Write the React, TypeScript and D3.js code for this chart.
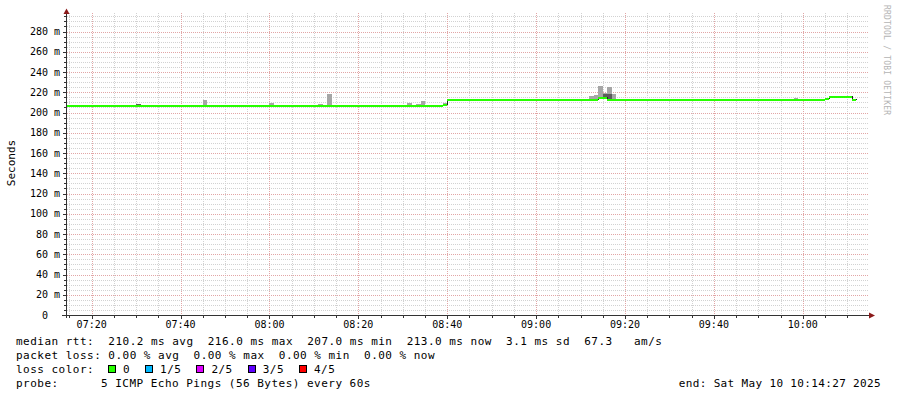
import React from "react";
import * as d3 from "d3";

// graph window (local time)
const graphDay = "2025-05-10";
const graphStart = "07:14:27";
const graphEnd = "10:14:27";

// median rtt in ms, each value holds until the next change point
const medianTimes = ["07:14", "08:39", "08:40", "09:14", "09:16", "10:05", "10:06", "10:11"];
const medianValues = [207, 208, 213, 215, 213, 214, 216, 213];
const medianDataEnd = "10:12";

// smoke: outer spread of the pings (light gray)
const smokeTimes = ["07:30", "07:45", "08:00", "08:11", "08:13", "08:31", "08:33", "08:34", "08:39", "09:12", "09:13", "09:14", "09:15", "09:16", "09:17", "09:58"];
const smokeLow = [207, 207, 207, 207, 207, 207, 207, 207, 207, 213, 213, 213, 213, 213, 213, 213];
const smokeHigh = [208.5, 212, 209.5, 208.5, 218.5, 209.5, 208.5, 211.5, 209.5, 216.5, 217.5, 226.5, 219, 225.5, 218, 214.5];

// smoke: inner spread (dark gray)
const innerTimes = ["07:30", "09:15", "09:16"];
const innerLow = [207, 214, 213];
const innerHigh = [208.5, 218.5, 218.5];

// y axis
const yMax = 298.5;
const yMajorTicks = [20, 40, 60, 80, 100, 120, 140, 160, 180, 200, 220, 240, 260, 280];

// legend
const statsLine = "median rtt:  210.2 ms avg  216.0 ms max  207.0 ms min  213.0 ms now  3.1 ms sd  67.3   am/s";
const lossLine = "packet loss: 0.00 % avg  0.00 % max  0.00 % min  0.00 % now";
const lossLabels = ["0", "1/5", "2/5", "3/5", "4/5"];
const lossColors = ["#26ff00", "#00b8ff", "#dd00ff", "#5e00ff", "#ff0000"];
const probeText = "5 ICMP Echo Pings (56 Bytes) every 60s";
const endText = "end: Sat May 10 10:14:27 2025";

const W = 897;
const H = 397;
const plot = { left: 67, right: 867, top: 13, bottom: 315 };
const mono = "DejaVu Sans Mono";
const charW = 7.1;

const at = (hm: string) => new Date(`${graphDay}T${hm.length === 5 ? hm + ":00" : hm}`);
const addMin = (d: Date, m: number) => new Date(d.getTime() + m * 60000);

export default function App() {
  const t0 = at(graphStart);
  const t1 = at(graphEnd);
  const x = d3.scaleTime().domain([t0, t1]).range([plot.left, plot.right]);
  const y = d3.scaleLinear().domain([0, yMax]).range([plot.bottom, plot.top - 0.2]);
  const fmt = d3.timeFormat("%H:%M");
  const px = (v: number) => Math.round(v) + 0.5;
  const lineY = (v: number) => Math.floor(y(v)) + 1;

  const xMinor = d3.timeMinute.every(5)!.range(t0, t1);
  const xMajor = xMinor.filter(d => d.getMinutes() % 20 === 0);
  const yMinor = d3.range(5, yMax, 5).filter(v => v % 20 !== 0);

  // median segments
  const segs = medianTimes.map((t, i) => {
    const a = at(t) < t0 ? t0 : at(t);
    const b = at(i + 1 < medianTimes.length ? medianTimes[i + 1] : medianDataEnd);
    return { a, b, v: medianValues[i] };
  });
  const stepPts: [Date, number][] = segs.map(s => [s.a, s.v] as [Date, number]);
  stepPts.push([at(medianDataEnd), medianValues[medianValues.length - 1]]);
  const stepLine = d3.line<[Date, number]>()
    .x(d => Math.round(x(d[0])) + 0.5)
    .y(d => lineY(d[1]) - 0.5)
    .curve(d3.curveStepAfter);

  // loss colour legend layout
  let bx = 108;
  const lossItems = lossLabels.map((lab, i) => {
    const item = { lab, color: lossColors[i], bx, tx: bx + 15 };
    bx = item.tx + lab.length * charW + 15;
    return item;
  });

  const pre: React.CSSProperties = { whiteSpace: "pre" };

  return (
    <svg width={W} height={H} style={{ position: "absolute", left: 0, top: 0, background: "#fff" }}
      fontFamily={mono}>
      <rect width={W} height={H} fill="#fff" />

      {/* minor grid */}
      <g stroke="#d2d2d2" strokeDasharray="1,1" shapeRendering="crispEdges">
        {yMinor.map(v => (
          <line key={"ym" + v} x1={plot.left} x2={plot.right + 2} y1={px(y(v))} y2={px(y(v))} />
        ))}
        {xMinor.filter(d => d.getMinutes() % 20 !== 0).map(d => (
          <line key={"xm" + d.getTime()} x1={px(x(d))} x2={px(x(d))} y1={plot.top} y2={plot.bottom} />
        ))}
      </g>
      {/* major grid */}
      <g stroke="#e2a6a6" strokeDasharray="1,1" shapeRendering="crispEdges">
        {yMajorTicks.map(v => (
          <line key={"yM" + v} x1={plot.left} x2={plot.right + 2} y1={px(y(v))} y2={px(y(v))} />
        ))}
        {xMajor.map(d => (
          <line key={"xM" + d.getTime()} x1={px(x(d))} x2={px(x(d))} y1={plot.top} y2={plot.bottom} />
        ))}
      </g>

      {/* smoke */}
      <g shapeRendering="crispEdges">
        {smokeTimes.map((t, i) => (
          <rect key={"s" + t} x={x(at(t))} width={x(addMin(at(t), 1)) - x(at(t))}
            y={y(smokeHigh[i])} height={y(smokeLow[i]) - y(smokeHigh[i])} fill="#a6a6a6" />
        ))}
        {innerTimes.map((t, i) => (
          <rect key={"i" + t} x={x(at(t))} width={x(addMin(at(t), 1)) - x(at(t))}
            y={y(innerHigh[i])} height={y(innerLow[i]) - y(innerHigh[i])} fill="#5c5c5c" />
        ))}
      </g>

      {/* median */}
      <path d={stepLine(stepPts) || ""} fill="none" stroke="#202020" strokeWidth={1} shapeRendering="crispEdges" />
      <g shapeRendering="crispEdges">
        {segs.map((s, i) => (
          <line key={"m" + i} x1={Math.round(x(s.a))} x2={Math.round(x(s.b))} y1={lineY(s.v)} y2={lineY(s.v)}
            stroke={lossColors[0]} strokeWidth={2} />
        ))}
      </g>

      {/* axes */}
      <g stroke="#333" shapeRendering="crispEdges">
        <line x1={66.5} x2={66.5} y1={plot.bottom + 3} y2={plot.top} />
        <line x1={62} x2={plot.right + 2} y1={315.5} y2={315.5} />
        {yMajorTicks.map(v => (
          <line key={"yt" + v} x1={63} x2={66} y1={px(y(v))} y2={px(y(v))} />
        ))}
        {yMinor.map(v => (
          <line key={"ymt" + v} x1={64} x2={66} y1={px(y(v))} y2={px(y(v))} />
        ))}
        {xMinor.map(d => (
          <line key={"xt" + d.getTime()} x1={px(x(d))} x2={px(x(d))} y1={316} y2={d.getMinutes() % 20 === 0 ? 319 : 318} />
        ))}
      </g>
      <path d="M66.5,8.5 L63.5,14 L69.5,14 Z" fill="#8b1a1a" />
      <path d="M875,315.5 L869,312.5 L869,318.5 Z" fill="#8b1a1a" />

      {/* tick labels */}
      <g fontSize={10} fill="#000">
        {yMajorTicks.map(v => (
          <text key={"yl" + v} x={60} y={y(v) + 3.6} textAnchor="end">{`${v} m`}</text>
        ))}
        <text x={60} y={y(0) + 3.6} textAnchor="end" xmlSpace="preserve" style={pre}>{"0  "}</text>
        {xMajor.map(d => (
          <text key={"xl" + d.getTime()} x={x(d)} y={328} textAnchor="middle">{fmt(d)}</text>
        ))}
      </g>

      <text transform="translate(15,163) rotate(-90)" textAnchor="middle" fontSize={11}>Seconds</text>
      <text transform="translate(884,5) rotate(90)" fontSize={8} fill="#b4b4b4" letterSpacing={0.2}>RRDTOOL / TOBI OETIKER</text>

      {/* legend */}
      <g fontSize={11} letterSpacing={0.48} fill="#000">
        <text x={16} y={345} xmlSpace="preserve" style={pre}>{statsLine}</text>
        <text x={16} y={359} xmlSpace="preserve" style={pre}>{lossLine}</text>
        <text x={16} y={373}>loss color:</text>
        {lossItems.map(it => (
          <g key={it.lab}>
            <rect x={it.bx + 0.5} y={365.5} width={7} height={7} fill={it.color} stroke="#000" shapeRendering="crispEdges" />
            <text x={it.tx} y={373}>{it.lab}</text>
          </g>
        ))}
        <text x={16} y={387}>probe:</text>
        <text x={101} y={387}>{probeText}</text>
        <text x={881} y={387} textAnchor="end" letterSpacing={0.35}>{endText}</text>
      </g>
    </svg>
  );
}
